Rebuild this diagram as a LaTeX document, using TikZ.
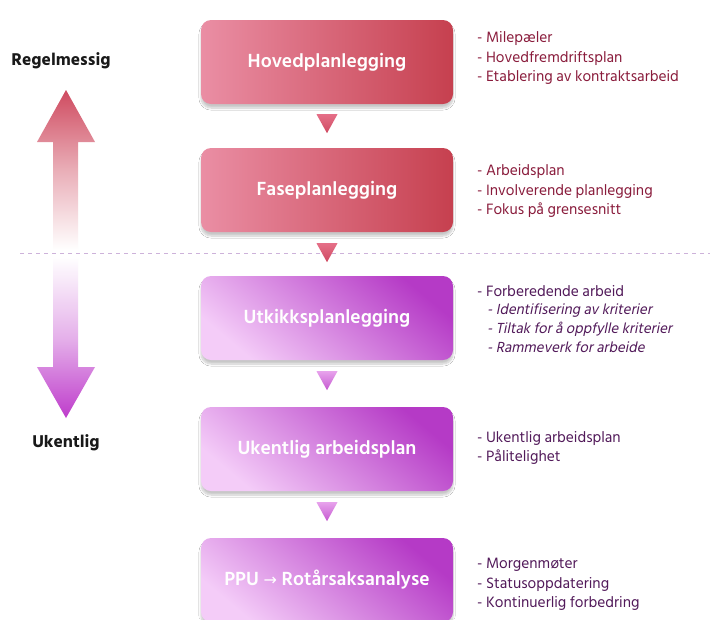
\documentclass[tikz,border=0pt]{standalone}
\usepackage{fontspec}
\setmainfont{Hind Siliguri}[BoldFont={Hind Siliguri SemiBold}, ItalicFont={Hind Siliguri}, ItalicFeatures={FakeSlant=0.2}]
\newfontfamily\hindbold{Hind Siliguri Bold}
\newfontfamily\arrfont{DejaVu Sans}
\usetikzlibrary{shadows.blur,calc}
\definecolor{redL}{HTML}{EA8EA4}
\definecolor{redR}{HTML}{C6404F}
\definecolor{purD}{HTML}{B53AC6}
\definecolor{purL}{HTML}{F4CCF8}
\definecolor{redTxt}{HTML}{8A1C3C}
\definecolor{purTxt}{HTML}{521A5A}
\definecolor{dashc}{HTML}{CDB2DA}
\definecolor{arrRed}{HTML}{CF4B60}
\definecolor{arrPur}{HTML}{BE3CCB}
\definecolor{triRedT}{HTML}{E56F88}
\definecolor{triRedB}{HTML}{CF4A61}
\definecolor{triPurT}{HTML}{E7A2EC}
\definecolor{triPurB}{HTML}{C558D0}
\begin{document}
\begin{tikzpicture}[x=1pt,y=-1pt,
  box/.style={rectangle, rounded corners=10pt, minimum width=252pt, minimum height=84pt,
    text=white, font=\bfseries\fontsize{19.5}{22}\selectfont,
    blur shadow={shadow blur steps=10, shadow xshift=0pt, shadow yshift=-4pt, shadow opacity=22}},
  redbox/.style={box, left color=redL, right color=redR},
  purbox/.style={box, top color=purD, bottom color=purL, shading angle=-40},
  item/.style={anchor=base west, inner sep=0pt, font=\fontsize{15.4}{18}\selectfont},
  subitem/.style={anchor=base west, inner sep=0pt, font=\itshape\fontsize{15}{18}\selectfont},
  side/.style={anchor=base, inner sep=0pt, font=\hindbold\fontsize{17.5}{20}\selectfont, text=black!90}]
\useasboundingbox (0,0) rectangle (710,619);
\fill[white] (0,0) rectangle (710,619);

% dashed separator
\coordinate (dl) at (20,253);
\coordinate (dr) at (710,253);
\draw[dashc, line width=0.8pt, dash pattern=on 4pt off 4pt] (dl) -- (dr);

% left double arrow (two fading halves)
\shade[top color=arrRed, bottom color=white, middle color=arrRed!45]
  (66,90) -- (95,142) -- (78,142) -- (78,250) -- (53,250) -- (53,142) -- (37,142) -- cycle;
\shade[top color=white, bottom color=arrPur, middle color=arrPur!40]
  (53,257) -- (78,257) -- (78,367) -- (95,367) -- (66,418) -- (37,367) -- (53,367) -- cycle;
\node[side] (reg) at (61,65) {Regelmessig};
\node[side] (uke) at (66,447) {Ukentlig};

% boxes
\node[redbox] (b1) at (327,62) {Hovedplanlegging};
\node[redbox] (b2) at (327,190) {Faseplanlegging};
\node[purbox] (b3) at (327,318) {Utkikksplanlegging};
\node[purbox] (b4) at (327,449) {Ukentlig arbeidsplan};
\node[purbox] (b5) at (327,580) {PPU {\arrfont\mdseries\fontsize{16}{18}\selectfont →} Rotårsaksanalyse};

% connecting triangles
\shade[top color=triRedT, bottom color=triRedB]
  ($(b1.south)+(-10.5,10)$) -- ($(b1.south)+(10.5,10)$) -- ($(b1.south)+(0,29)$) -- cycle;
\shade[top color=triRedT, bottom color=triRedB]
  ($(b2.south)+(-10.5,11)$) -- ($(b2.south)+(10.5,11)$) -- ($(b2.south)+(0,30)$) -- cycle;
\shade[top color=triPurT, bottom color=triPurB]
  ($(b3.south)+(-10.5,11)$) -- ($(b3.south)+(10.5,11)$) -- ($(b3.south)+(0,30)$) -- cycle;
\shade[top color=triPurT, bottom color=triPurB]
  ($(b4.south)+(-10.5,11)$) -- ($(b4.south)+(10.5,11)$) -- ($(b4.south)+(0,30)$) -- cycle;

% descriptions
\node[item, text=redTxt] (t11) at (477,42) {- Milepæler};
\node[item, text=redTxt] (t12) at (477,62) {- Hovedfremdriftsplan};
\node[item, text=redTxt] (t13) at (477,81) {- Etablering av kontraktsarbeid};
\node[item, text=redTxt] (t21) at (477,175) {- Arbeidsplan};
\node[item, text=redTxt] (t22) at (477,195) {- Involverende planlegging};
\node[item, text=redTxt] (t23) at (477,214) {- Fokus på grensesnitt};
\node[item, text=purTxt] (t31) at (477,296) {- Forberedende arbeid};
\node[subitem, text=purTxt] (t32) at (487,314.5) {- Identifisering av kriterier};
\node[subitem, text=purTxt] (t33) at (487,333.5) {- Tiltak for å oppfylle kriterier};
\node[subitem, text=purTxt] (t34) at (487,352) {- Rammeverk for arbeide};
\node[item, text=purTxt] (t41) at (477,442.5) {- Ukentlig arbeidsplan};
\node[item, text=purTxt] (t42) at (477,461) {- Pålitelighet};
\node[item, text=purTxt] (t51) at (477,568) {- Morgenmøter};
\node[item, text=purTxt] (t52) at (477,588) {- Statusoppdatering};
\node[item, text=purTxt] (t53) at (477,607) {- Kontinuerlig forbedring};
\end{tikzpicture}
\end{document}
